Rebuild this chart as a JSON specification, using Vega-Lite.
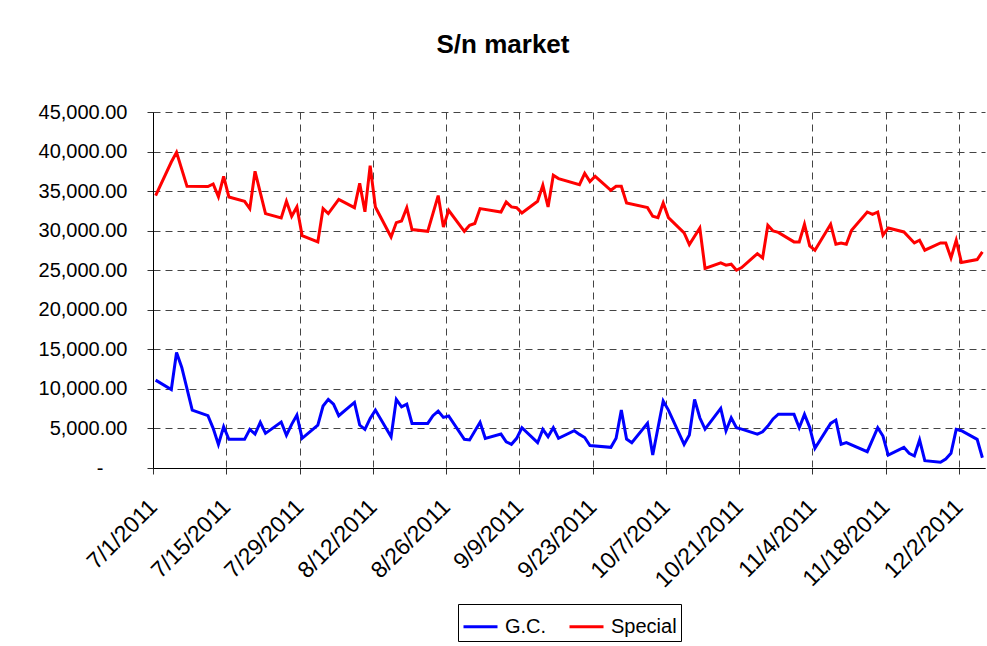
{
  "$schema": "https://vega.github.io/schema/vega-lite/v6.json",
  "width": 832,
  "height": 356,
  "autosize": {"type": "none"},
  "padding": {"left": 153, "top": 112, "right": 2, "bottom": 178},
  "background": "white",
  "config": {
    "font": "Liberation Sans",
    "view": {"stroke": null},
    "axis": {"labelFont": "Liberation Sans", "labelColor": "black"}
  },
  "title": {
    "text": "S/n market",
    "fontSize": 26,
    "fontWeight": "bold",
    "font": "Liberation Sans",
    "color": "black",
    "anchor": "middle",
    "frame": "group",
    "dx": -66,
    "offset": 44
  },
  "data": {
    "values": [
      {"date": "2011-07-01T12:00:00", "series": "Special", "value": 34430},
      {"date": "2011-07-04T12:00:00", "series": "Special", "value": 38680},
      {"date": "2011-07-05T12:00:00", "series": "Special", "value": 39900},
      {"date": "2011-07-07T12:00:00", "series": "Special", "value": 35600},
      {"date": "2011-07-11T12:00:00", "series": "Special", "value": 35570},
      {"date": "2011-07-12T12:00:00", "series": "Special", "value": 35900},
      {"date": "2011-07-13T12:00:00", "series": "Special", "value": 34300},
      {"date": "2011-07-14T12:00:00", "series": "Special", "value": 36870},
      {"date": "2011-07-15T12:00:00", "series": "Special", "value": 34260},
      {"date": "2011-07-18T12:00:00", "series": "Special", "value": 33700},
      {"date": "2011-07-19T12:00:00", "series": "Special", "value": 32790},
      {"date": "2011-07-20T12:00:00", "series": "Special", "value": 37500},
      {"date": "2011-07-22T12:00:00", "series": "Special", "value": 32160},
      {"date": "2011-07-25T12:00:00", "series": "Special", "value": 31600},
      {"date": "2011-07-26T12:00:00", "series": "Special", "value": 33710},
      {"date": "2011-07-27T12:00:00", "series": "Special", "value": 31820},
      {"date": "2011-07-28T12:00:00", "series": "Special", "value": 33000},
      {"date": "2011-07-29T12:00:00", "series": "Special", "value": 29380},
      {"date": "2011-08-01T12:00:00", "series": "Special", "value": 28580},
      {"date": "2011-08-02T12:00:00", "series": "Special", "value": 32790},
      {"date": "2011-08-03T12:00:00", "series": "Special", "value": 32160},
      {"date": "2011-08-05T12:00:00", "series": "Special", "value": 33960},
      {"date": "2011-08-08T12:00:00", "series": "Special", "value": 32910},
      {"date": "2011-08-09T12:00:00", "series": "Special", "value": 35980},
      {"date": "2011-08-10T12:00:00", "series": "Special", "value": 32380},
      {"date": "2011-08-11T12:00:00", "series": "Special", "value": 38220},
      {"date": "2011-08-12T12:00:00", "series": "Special", "value": 33000},
      {"date": "2011-08-15T12:00:00", "series": "Special", "value": 29200},
      {"date": "2011-08-16T12:00:00", "series": "Special", "value": 31020},
      {"date": "2011-08-17T12:00:00", "series": "Special", "value": 31230},
      {"date": "2011-08-18T12:00:00", "series": "Special", "value": 32910},
      {"date": "2011-08-19T12:00:00", "series": "Special", "value": 30140},
      {"date": "2011-08-22T12:00:00", "series": "Special", "value": 29920},
      {"date": "2011-08-24T12:00:00", "series": "Special", "value": 34430},
      {"date": "2011-08-25T12:00:00", "series": "Special", "value": 30470},
      {"date": "2011-08-26T12:00:00", "series": "Special", "value": 32580},
      {"date": "2011-08-29T12:00:00", "series": "Special", "value": 29920},
      {"date": "2011-08-30T12:00:00", "series": "Special", "value": 30680},
      {"date": "2011-08-31T12:00:00", "series": "Special", "value": 30900},
      {"date": "2011-09-01T12:00:00", "series": "Special", "value": 32790},
      {"date": "2011-09-05T12:00:00", "series": "Special", "value": 32360},
      {"date": "2011-09-06T12:00:00", "series": "Special", "value": 33620},
      {"date": "2011-09-07T12:00:00", "series": "Special", "value": 33000},
      {"date": "2011-09-08T12:00:00", "series": "Special", "value": 32910},
      {"date": "2011-09-09T12:00:00", "series": "Special", "value": 32240},
      {"date": "2011-09-12T12:00:00", "series": "Special", "value": 33710},
      {"date": "2011-09-13T12:00:00", "series": "Special", "value": 35730},
      {"date": "2011-09-14T12:00:00", "series": "Special", "value": 33000},
      {"date": "2011-09-15T12:00:00", "series": "Special", "value": 37000},
      {"date": "2011-09-16T12:00:00", "series": "Special", "value": 36580},
      {"date": "2011-09-20T12:00:00", "series": "Special", "value": 35820},
      {"date": "2011-09-21T12:00:00", "series": "Special", "value": 37250},
      {"date": "2011-09-22T12:00:00", "series": "Special", "value": 36200},
      {"date": "2011-09-23T12:00:00", "series": "Special", "value": 36870},
      {"date": "2011-09-26T12:00:00", "series": "Special", "value": 35100},
      {"date": "2011-09-27T12:00:00", "series": "Special", "value": 35600},
      {"date": "2011-09-28T12:00:00", "series": "Special", "value": 35600},
      {"date": "2011-09-29T12:00:00", "series": "Special", "value": 33500},
      {"date": "2011-10-03T12:00:00", "series": "Special", "value": 32910},
      {"date": "2011-10-04T12:00:00", "series": "Special", "value": 31820},
      {"date": "2011-10-05T12:00:00", "series": "Special", "value": 31650},
      {"date": "2011-10-06T12:00:00", "series": "Special", "value": 33500},
      {"date": "2011-10-07T12:00:00", "series": "Special", "value": 31650},
      {"date": "2011-10-10T12:00:00", "series": "Special", "value": 29710},
      {"date": "2011-10-11T12:00:00", "series": "Special", "value": 28240},
      {"date": "2011-10-13T12:00:00", "series": "Special", "value": 30340},
      {"date": "2011-10-14T12:00:00", "series": "Special", "value": 25220},
      {"date": "2011-10-17T12:00:00", "series": "Special", "value": 25920},
      {"date": "2011-10-18T12:00:00", "series": "Special", "value": 25630},
      {"date": "2011-10-19T12:00:00", "series": "Special", "value": 25760},
      {"date": "2011-10-20T12:00:00", "series": "Special", "value": 25000},
      {"date": "2011-10-21T12:00:00", "series": "Special", "value": 25340},
      {"date": "2011-10-24T12:00:00", "series": "Special", "value": 27100},
      {"date": "2011-10-25T12:00:00", "series": "Special", "value": 26550},
      {"date": "2011-10-26T12:00:00", "series": "Special", "value": 30680},
      {"date": "2011-10-27T12:00:00", "series": "Special", "value": 29960},
      {"date": "2011-10-28T12:00:00", "series": "Special", "value": 29780},
      {"date": "2011-10-31T12:00:00", "series": "Special", "value": 28580},
      {"date": "2011-11-01T12:00:00", "series": "Special", "value": 28580},
      {"date": "2011-11-02T12:00:00", "series": "Special", "value": 30810},
      {"date": "2011-11-03T12:00:00", "series": "Special", "value": 28070},
      {"date": "2011-11-04T12:00:00", "series": "Special", "value": 27530},
      {"date": "2011-11-07T12:00:00", "series": "Special", "value": 30810},
      {"date": "2011-11-08T12:00:00", "series": "Special", "value": 28280},
      {"date": "2011-11-09T12:00:00", "series": "Special", "value": 28450},
      {"date": "2011-11-10T12:00:00", "series": "Special", "value": 28280},
      {"date": "2011-11-11T12:00:00", "series": "Special", "value": 30050},
      {"date": "2011-11-14T12:00:00", "series": "Special", "value": 32360},
      {"date": "2011-11-15T12:00:00", "series": "Special", "value": 32070},
      {"date": "2011-11-16T12:00:00", "series": "Special", "value": 32360},
      {"date": "2011-11-17T12:00:00", "series": "Special", "value": 29420},
      {"date": "2011-11-18T12:00:00", "series": "Special", "value": 30340},
      {"date": "2011-11-21T12:00:00", "series": "Special", "value": 29840},
      {"date": "2011-11-23T12:00:00", "series": "Special", "value": 28450},
      {"date": "2011-11-24T12:00:00", "series": "Special", "value": 28790},
      {"date": "2011-11-25T12:00:00", "series": "Special", "value": 27530},
      {"date": "2011-11-28T12:00:00", "series": "Special", "value": 28450},
      {"date": "2011-11-29T12:00:00", "series": "Special", "value": 28450},
      {"date": "2011-11-30T12:00:00", "series": "Special", "value": 26550},
      {"date": "2011-12-01T12:00:00", "series": "Special", "value": 28790},
      {"date": "2011-12-02T12:00:00", "series": "Special", "value": 25970},
      {"date": "2011-12-05T12:00:00", "series": "Special", "value": 26350},
      {"date": "2011-12-06T12:00:00", "series": "Special", "value": 27310},
      {"date": "2011-07-01T12:00:00", "series": "G.C.", "value": 11110},
      {"date": "2011-07-04T12:00:00", "series": "G.C.", "value": 9930},
      {"date": "2011-07-05T12:00:00", "series": "G.C.", "value": 14600},
      {"date": "2011-07-06T12:00:00", "series": "G.C.", "value": 12710},
      {"date": "2011-07-08T12:00:00", "series": "G.C.", "value": 7320},
      {"date": "2011-07-11T12:00:00", "series": "G.C.", "value": 6610},
      {"date": "2011-07-12T12:00:00", "series": "G.C.", "value": 5010},
      {"date": "2011-07-13T12:00:00", "series": "G.C.", "value": 2990},
      {"date": "2011-07-14T12:00:00", "series": "G.C.", "value": 5220},
      {"date": "2011-07-15T12:00:00", "series": "G.C.", "value": 3620},
      {"date": "2011-07-18T12:00:00", "series": "G.C.", "value": 3620},
      {"date": "2011-07-19T12:00:00", "series": "G.C.", "value": 4880},
      {"date": "2011-07-20T12:00:00", "series": "G.C.", "value": 4290},
      {"date": "2011-07-21T12:00:00", "series": "G.C.", "value": 5770},
      {"date": "2011-07-22T12:00:00", "series": "G.C.", "value": 4380},
      {"date": "2011-07-25T12:00:00", "series": "G.C.", "value": 5810},
      {"date": "2011-07-26T12:00:00", "series": "G.C.", "value": 4130},
      {"date": "2011-07-27T12:00:00", "series": "G.C.", "value": 5520},
      {"date": "2011-07-28T12:00:00", "series": "G.C.", "value": 6690},
      {"date": "2011-07-29T12:00:00", "series": "G.C.", "value": 3750},
      {"date": "2011-08-01T12:00:00", "series": "G.C.", "value": 5430},
      {"date": "2011-08-02T12:00:00", "series": "G.C.", "value": 7830},
      {"date": "2011-08-03T12:00:00", "series": "G.C.", "value": 8670},
      {"date": "2011-08-04T12:00:00", "series": "G.C.", "value": 8080},
      {"date": "2011-08-05T12:00:00", "series": "G.C.", "value": 6610},
      {"date": "2011-08-08T12:00:00", "series": "G.C.", "value": 8290},
      {"date": "2011-08-09T12:00:00", "series": "G.C.", "value": 5430},
      {"date": "2011-08-10T12:00:00", "series": "G.C.", "value": 4880},
      {"date": "2011-08-11T12:00:00", "series": "G.C.", "value": 6270},
      {"date": "2011-08-12T12:00:00", "series": "G.C.", "value": 7320},
      {"date": "2011-08-15T12:00:00", "series": "G.C.", "value": 3960},
      {"date": "2011-08-16T12:00:00", "series": "G.C.", "value": 8670},
      {"date": "2011-08-17T12:00:00", "series": "G.C.", "value": 7740},
      {"date": "2011-08-18T12:00:00", "series": "G.C.", "value": 8080},
      {"date": "2011-08-19T12:00:00", "series": "G.C.", "value": 5640},
      {"date": "2011-08-22T12:00:00", "series": "G.C.", "value": 5640},
      {"date": "2011-08-23T12:00:00", "series": "G.C.", "value": 6610},
      {"date": "2011-08-24T12:00:00", "series": "G.C.", "value": 7200},
      {"date": "2011-08-25T12:00:00", "series": "G.C.", "value": 6400},
      {"date": "2011-08-26T12:00:00", "series": "G.C.", "value": 6570},
      {"date": "2011-08-29T12:00:00", "series": "G.C.", "value": 3620},
      {"date": "2011-08-30T12:00:00", "series": "G.C.", "value": 3540},
      {"date": "2011-09-01T12:00:00", "series": "G.C.", "value": 5770},
      {"date": "2011-09-02T12:00:00", "series": "G.C.", "value": 3750},
      {"date": "2011-09-05T12:00:00", "series": "G.C.", "value": 4290},
      {"date": "2011-09-06T12:00:00", "series": "G.C.", "value": 3320},
      {"date": "2011-09-07T12:00:00", "series": "G.C.", "value": 2990},
      {"date": "2011-09-08T12:00:00", "series": "G.C.", "value": 3750},
      {"date": "2011-09-09T12:00:00", "series": "G.C.", "value": 5090},
      {"date": "2011-09-12T12:00:00", "series": "G.C.", "value": 3200},
      {"date": "2011-09-13T12:00:00", "series": "G.C.", "value": 4880},
      {"date": "2011-09-14T12:00:00", "series": "G.C.", "value": 3960},
      {"date": "2011-09-15T12:00:00", "series": "G.C.", "value": 5090},
      {"date": "2011-09-16T12:00:00", "series": "G.C.", "value": 3750},
      {"date": "2011-09-19T12:00:00", "series": "G.C.", "value": 4710},
      {"date": "2011-09-20T12:00:00", "series": "G.C.", "value": 4250},
      {"date": "2011-09-21T12:00:00", "series": "G.C.", "value": 3850},
      {"date": "2011-09-22T12:00:00", "series": "G.C.", "value": 2850},
      {"date": "2011-09-26T12:00:00", "series": "G.C.", "value": 2610},
      {"date": "2011-09-27T12:00:00", "series": "G.C.", "value": 3750},
      {"date": "2011-09-28T12:00:00", "series": "G.C.", "value": 7320},
      {"date": "2011-09-29T12:00:00", "series": "G.C.", "value": 3660},
      {"date": "2011-09-30T12:00:00", "series": "G.C.", "value": 3200},
      {"date": "2011-10-03T12:00:00", "series": "G.C.", "value": 5640},
      {"date": "2011-10-04T12:00:00", "series": "G.C.", "value": 1640},
      {"date": "2011-10-06T12:00:00", "series": "G.C.", "value": 8460},
      {"date": "2011-10-07T12:00:00", "series": "G.C.", "value": 7320},
      {"date": "2011-10-10T12:00:00", "series": "G.C.", "value": 2990},
      {"date": "2011-10-11T12:00:00", "series": "G.C.", "value": 4170},
      {"date": "2011-10-12T12:00:00", "series": "G.C.", "value": 8670},
      {"date": "2011-10-13T12:00:00", "series": "G.C.", "value": 6350},
      {"date": "2011-10-14T12:00:00", "series": "G.C.", "value": 4920},
      {"date": "2011-10-17T12:00:00", "series": "G.C.", "value": 7540},
      {"date": "2011-10-18T12:00:00", "series": "G.C.", "value": 4710},
      {"date": "2011-10-19T12:00:00", "series": "G.C.", "value": 6350},
      {"date": "2011-10-20T12:00:00", "series": "G.C.", "value": 5090},
      {"date": "2011-10-21T12:00:00", "series": "G.C.", "value": 4920},
      {"date": "2011-10-24T12:00:00", "series": "G.C.", "value": 4290},
      {"date": "2011-10-25T12:00:00", "series": "G.C.", "value": 4580},
      {"date": "2011-10-26T12:00:00", "series": "G.C.", "value": 5300},
      {"date": "2011-10-27T12:00:00", "series": "G.C.", "value": 6200},
      {"date": "2011-10-28T12:00:00", "series": "G.C.", "value": 6800},
      {"date": "2011-10-31T12:00:00", "series": "G.C.", "value": 6780},
      {"date": "2011-11-01T12:00:00", "series": "G.C.", "value": 5090},
      {"date": "2011-11-02T12:00:00", "series": "G.C.", "value": 6780},
      {"date": "2011-11-03T12:00:00", "series": "G.C.", "value": 5140},
      {"date": "2011-11-04T12:00:00", "series": "G.C.", "value": 2490},
      {"date": "2011-11-07T12:00:00", "series": "G.C.", "value": 5640},
      {"date": "2011-11-08T12:00:00", "series": "G.C.", "value": 6060},
      {"date": "2011-11-09T12:00:00", "series": "G.C.", "value": 2990},
      {"date": "2011-11-10T12:00:00", "series": "G.C.", "value": 3200},
      {"date": "2011-11-14T12:00:00", "series": "G.C.", "value": 2060},
      {"date": "2011-11-16T12:00:00", "series": "G.C.", "value": 5090},
      {"date": "2011-11-17T12:00:00", "series": "G.C.", "value": 4040},
      {"date": "2011-11-18T12:00:00", "series": "G.C.", "value": 1640},
      {"date": "2011-11-21T12:00:00", "series": "G.C.", "value": 2610},
      {"date": "2011-11-22T12:00:00", "series": "G.C.", "value": 1860},
      {"date": "2011-11-23T12:00:00", "series": "G.C.", "value": 1520},
      {"date": "2011-11-24T12:00:00", "series": "G.C.", "value": 3540},
      {"date": "2011-11-25T12:00:00", "series": "G.C.", "value": 920},
      {"date": "2011-11-28T12:00:00", "series": "G.C.", "value": 720},
      {"date": "2011-11-29T12:00:00", "series": "G.C.", "value": 1140},
      {"date": "2011-11-30T12:00:00", "series": "G.C.", "value": 1860},
      {"date": "2011-12-01T12:00:00", "series": "G.C.", "value": 4880},
      {"date": "2011-12-02T12:00:00", "series": "G.C.", "value": 4710},
      {"date": "2011-12-05T12:00:00", "series": "G.C.", "value": 3620},
      {"date": "2011-12-06T12:00:00", "series": "G.C.", "value": 1300}
    ]
  },
  "mark": {"type": "line", "strokeWidth": 3, "interpolate": "linear"},
  "encoding": {
    "x": {
      "field": "date",
      "type": "temporal",
      "scale": {
        "domain": [{"year": 2011, "month": 7, "date": 1}, {"year": 2011, "month": 12, "date": 7}],
        "nice": false
      },
      "axis": {
        "title": null,
        "values": [
          {"year": 2011, "month": 7, "date": 1},
          {"year": 2011, "month": 7, "date": 15},
          {"year": 2011, "month": 7, "date": 29},
          {"year": 2011, "month": 8, "date": 12},
          {"year": 2011, "month": 8, "date": 26},
          {"year": 2011, "month": 9, "date": 9},
          {"year": 2011, "month": 9, "date": 23},
          {"year": 2011, "month": 10, "date": 7},
          {"year": 2011, "month": 10, "date": 21},
          {"year": 2011, "month": 11, "date": 4},
          {"year": 2011, "month": 11, "date": 18},
          {"year": 2011, "month": 12, "date": 2}
        ],
        "format": "%-m/%-d/%Y",
        "labelAngle": -45,
        "labelAlign": "right",
        "labelBaseline": "middle",
        "labelFontSize": 23,
        "labelPadding": 29,
        "labelOverlap": false,
        "labelFlush": false,
        "labelBound": false,
        "domainColor": "black",
        "domainWidth": 1,
        "tickColor": "#333333",
        "tickSize": 6,
        "grid": true,
        "gridColor": "#444444",
        "gridWidth": 1,
        "gridDash": [7, 5]
      }
    },
    "y": {
      "field": "value",
      "type": "quantitative",
      "scale": {"domain": [0, 45000], "nice": false, "zero": true},
      "axis": {
        "title": null,
        "values": [0, 5000, 10000, 15000, 20000, 25000, 30000, 35000, 40000, 45000],
        "labelExpr": "datum.value === 0 ? '-\u2002\u2002\u2009\u2060' : format(datum.value, ',.2f')",
        "labelFontSize": 20,
        "labelPadding": 20,
        "domainColor": "black",
        "domainWidth": 1,
        "tickColor": "#333333",
        "tickSize": 6,
        "grid": true,
        "gridColor": "#444444",
        "gridWidth": 1,
        "gridDash": [7, 5]
      }
    },
    "color": {
      "field": "series",
      "type": "nominal",
      "scale": {"domain": ["G.C.", "Special"], "range": ["#0000FF", "#FF0000"]},
      "legend": {
        "title": null,
        "orient": "none",
        "legendX": 305,
        "legendY": 492,
        "direction": "horizontal",
        "symbolType": "stroke",
        "symbolSize": 1156,
        "symbolStrokeWidth": 3,
        "labelFontSize": 20,
        "labelFont": "Liberation Sans",
        "labelColor": "black",
        "labelOffset": 6,
        "columnPadding": 16,
        "strokeColor": "black",
        "fillColor": "white",
        "padding": 4
      }
    }
  }
}
